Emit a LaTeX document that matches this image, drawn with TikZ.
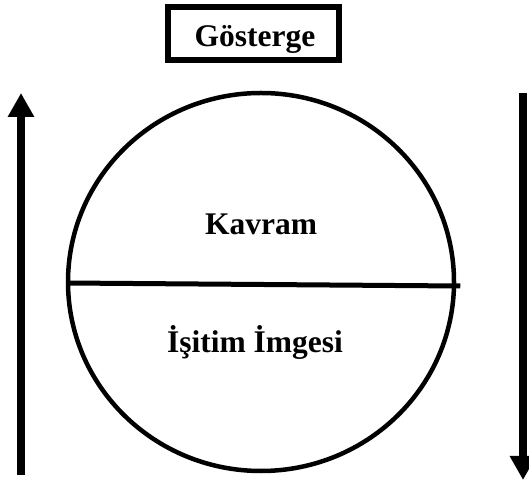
\documentclass[tikz,border=0pt]{standalone}
\usepackage{fontspec}
\setmainfont{Liberation Serif}
\usetikzlibrary{arrows.meta,shapes.geometric}
\begin{document}
\begin{tikzpicture}[x=1pt,y=1pt,
  lbl/.style={font=\fontsize{31.5}{36}\selectfont\bfseries, inner sep=0pt, anchor=base},
  bigarrow/.style={line width=7.5pt, -{Triangle[width=25pt,length=24pt]}},
  titlebox/.style={draw, line width=6pt, minimum width=171pt, minimum height=52.5pt, inner sep=0pt}
]
\useasboundingbox (0,0) rectangle (529,481);
% title box
\node[titlebox] (box) at (253.5,447.25) {};
\node[lbl] (title) at (255,434) {Gösterge};
% circle
\node[draw, ellipse, line width=4.5pt, minimum width=386pt, minimum height=378pt, inner sep=0pt] (circ) at (261,199) {};
\draw[line width=5pt] ([xshift=1pt,yshift=-1pt]circ.west) -- ([xshift=4pt,yshift=-4pt]circ.east);
\node[lbl] (kavram) at (261,246) {Kavram};
\node[lbl] (isitim) at (255,128) {İşitim İmgesi};
% arrows
\coordinate (la) at (21,6);
\coordinate (lb) at (21,388);
\coordinate (ra) at (523,388);
\coordinate (rb) at (523,1);
\draw[bigarrow] (la) -- (lb);
\draw[bigarrow] (ra) -- (rb);
\end{tikzpicture}
\end{document}
